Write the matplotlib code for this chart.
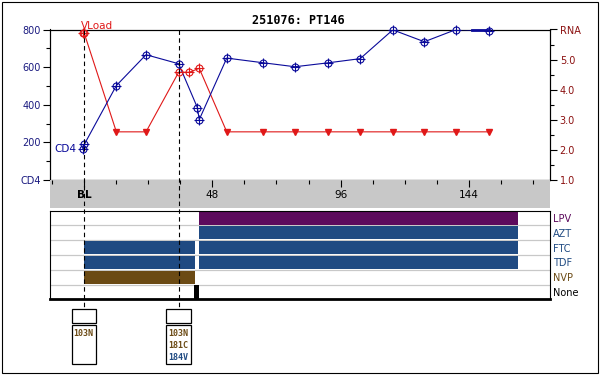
import matplotlib
matplotlib.use("Agg")
import matplotlib.pyplot as plt
from matplotlib.patches import Rectangle
from matplotlib.ticker import MultipleLocator
from matplotlib.transforms import blended_transform_factory

W, H = 600, 375
plt.rcParams['font.family'] = 'DejaVu Sans'
plt.rcParams['font.size'] = 7


def caja(l, t, r, b):
    # rectangulo en pixeles (arriba-izquierda) -> fracciones de figura
    return [l / W, 1 - b / H, (r - l) / W, (b - t) / H]


# --- datos ---
cd4_weeks = [-0.5, 0.1, 12.1, 23.2, 35.4, 42.4, 43.1, 53.4, 67.1, 78.9,
             91.4, 103.3, 115.5, 127.3, 139.2, 151.3]
cd4 = [164, 189, 502, 666, 618, 385, 321, 648, 623, 602,
       623, 645, 798, 735, 800, 793]
cd4_clip_weeks = [145.2, 151.3]
cd4_clip = [800, 800]

vl_weeks = [-0.3, 0.0, 35.4, 39.4, 43.1]
vl = [5.9, 5.9, 4.58, 4.58, 4.71]
vl_all_weeks = [-0.3, 0.0, 12.1, 23.2, 35.4, 39.4, 43.1, 53.4, 67.1, 78.9,
                91.4, 103.3, 115.5, 127.3, 139.2, 151.3]
vl_all = [5.9, 5.9, 2.6, 2.6, 4.58, 4.58, 4.71, 2.6, 2.6, 2.6,
          2.6, 2.6, 2.6, 2.6, 2.6, 2.6]
vl_low_weeks = [12.1, 23.2, 53.4, 67.1, 78.9, 91.4, 103.3, 115.5, 127.3, 139.2, 151.3]
vl_low = [2.6] * 11

week_ticks = [0, 48, 96, 144]
week_labels = ['BL', '48', '96', '144']

drugs = ['LPV', 'AZT', 'FTC', 'TDF', 'NVP', 'None']
drug_colors = ['#5c0a5c', '#1f4a82', '#1f4a82', '#1f4a82', '#6b4a14', '#000000']
drug_starts = [[43.1], [43.1], [0.0, 43.1], [0.0, 43.1], [0.0], [41.2]]
drug_ends = [[162.3], [162.3], [41.5, 162.3], [41.5, 162.3], [41.5], [43.0]]

geno_weeks = [0.0, 35.4]
geno_muts = [['103N'], ['103N', '181C', '184V']]
geno_colors = [['#6b4a14'], ['#6b4a14', '#6b4a14', '#1f4a82']]

navy = '#0a0a9a'
red = '#e01818'
dred = '#8b0f0f'
XLIM = (-12.72, 174.3)

fig = plt.figure(figsize=(6, 3.75), dpi=100)

### Panel superior: CD4 y carga viral
ax = fig.add_axes(caja(50, 29.5, 550, 180))
ax.set_xlim(*XLIM)
ax.set_ylim(0, 800)
ax.set_xticks([])
ax.set_yticks([0, 200, 400, 600, 800])
ax.set_yticklabels(['CD4', '200', '400', '600', '800'])
ax.yaxis.set_minor_locator(MultipleLocator(100))
ax.tick_params(axis='y', which='major', length=5, width=0.8, pad=1.5, labelcolor='#1a1a80')
ax.tick_params(axis='y', which='minor', length=3, width=0.8)
for s in ax.spines.values():
    s.set_linewidth(0.8)

ax2 = ax.twinx()
ax2.set_xlim(*XLIM)
ax2.set_ylim(1, 6)
ax2.plot(vl_all_weeks, vl_all, color=red, lw=0.8, zorder=3)
ax2.plot(vl_weeks, vl, ls='none', marker='o', mfc='none', mec=red, ms=5,
         mew=0.8, zorder=4, clip_on=False)
ax2.plot(vl_weeks, vl, ls='none', marker='+', mec=red, ms=7.5,
         mew=0.8, zorder=4, clip_on=False)
ax2.plot(vl_low_weeks, vl_low, ls='none', marker='v', color=red, ms=5, zorder=4)
ax2.set_yticks([1, 2, 3, 4, 5, 6])
ax2.set_yticklabels(['1.0', '2.0', '3.0', '4.0', '5.0', 'RNA'])
ax2.yaxis.set_minor_locator(MultipleLocator(0.5))
ax2.tick_params(axis='y', which='major', length=5, width=0.8, pad=2, labelcolor=dred)
ax2.tick_params(axis='y', which='minor', length=3, width=0.8)
for s in ax2.spines.values():
    s.set_linewidth(0.8)
ax2.annotate('VLoad', xy=(vl_weeks[0], vl[0]), xytext=(-2, 7), textcoords='offset pixels',
             ha='left', va='center', color=red, fontsize=7.5)

# CD4 dibujado sobre ax2 (para quedar encima de los bordes) en coordenadas de ax
t = ax.transData
ax2.plot(cd4_weeks, cd4, color=navy, lw=0.8, zorder=3, transform=t)
ax2.plot(cd4_clip_weeks, cd4_clip, color=navy, lw=2, zorder=3, clip_on=False, transform=t)
ax2.plot(cd4_weeks, cd4, ls='none', marker='o', mfc='none', mec=navy, ms=5,
         mew=0.8, zorder=4, clip_on=False, transform=t)
ax2.plot(cd4_weeks, cd4, ls='none', marker='+', mec=navy, ms=7.5,
         mew=0.8, zorder=4, clip_on=False, transform=t)
ax2.annotate('CD4', xy=(cd4_weeks[0], cd4[0]), xycoords=t, xytext=(-6, 0),
             textcoords='offset pixels', ha='right', va='center', color=navy, fontsize=7.5)

### Banda gris de semanas
bax = fig.add_axes(caja(50, 180, 550, 208))
bax.set_facecolor('#c8c8c8')
bax.set_xlim(*XLIM)
bax.set_ylim(0, 1)
bax.set_yticks([])
for s in bax.spines.values():
    s.set_visible(False)
bax.set_xticks(week_ticks)
bax.xaxis.set_minor_locator(MultipleLocator(12))
bax.tick_params(axis='x', which='both', top=True, bottom=False, labelbottom=False,
                direction='in', width=0.8)
bax.tick_params(axis='x', which='major', length=5)
bax.tick_params(axis='x', which='minor', length=3)
tr = blended_transform_factory(bax.transData, bax.transAxes)
for w, lab in zip(week_ticks, week_labels):
    bax.text(w, 0.48, lab, transform=tr, ha='center', va='center', fontsize=7.5,
             weight='bold' if lab == 'BL' else 'normal')

### Panel de drogas
dax = fig.add_axes(caja(50, 210.7, 550, 299.3))
dax.set_xlim(*XLIM)
dax.set_ylim(len(drugs), 0)
dax.set_xticks([])
for i in range(1, len(drugs)):
    dax.axhline(i, color='#c8c8c8', lw=0.9, zorder=1)
for i, (starts, ends, col) in enumerate(zip(drug_starts, drug_ends, drug_colors)):
    for a, b in zip(starts, ends):
        dax.barh(i + 0.5, b - a, left=a, height=0.9, color=col, zorder=2)
dax.yaxis.tick_right()
dax.set_yticks([i + 0.5 for i in range(len(drugs))])
dax.set_yticklabels(drugs)
for lab, col in zip(dax.get_yticklabels(), drug_colors):
    lab.set_color(col)
dax.tick_params(axis='y', length=0, pad=2, labelsize=7)
for s in dax.spines.values():
    s.set_linewidth(0.8)
dax.spines['bottom'].set_linewidth(2)

### Lineas de genotipo y cajas de mutaciones
oax = fig.add_axes(caja(50, 0, 550, 375))
oax.set_xlim(*XLIM)
oax.set_ylim(375, 0)
oax.axis('off')
oax.patch.set_alpha(0)
bw = 24.4 / 2.673
oax.vlines(geno_weeks, 29.5, 309.3, color='k', lw=0.8, linestyles=(0, (4, 3)))
for w, muts, cols in zip(geno_weeks, geno_muts, geno_colors):
    oax.add_patch(Rectangle((w - bw / 2, 309.3), bw, 13.4, fill=False, lw=0.9, clip_on=False))
    oax.add_patch(Rectangle((w - bw / 2, 325), bw, 39.3, fill=False, lw=0.9, clip_on=False))
    for k, (m, c) in enumerate(zip(muts, cols)):
        oax.text(w - bw / 2 + 0.7, 333.3 + 12 * k, m, color=c, ha='left', va='center',
                 family='DejaVu Sans Mono', weight='bold', fontsize=6)

fig.text(298.5 / W, 1 - 20 / H, '251076: PT146', ha='center', va='center',
         family='DejaVu Sans Mono', weight='bold', fontsize=8.5)
fig.patches.append(Rectangle((2 / W, 2 / H), 596 / W, 371 / H, transform=fig.transFigure,
                             fill=False, lw=0.8, color='k'))

fig.savefig('out.png', dpi=100)
